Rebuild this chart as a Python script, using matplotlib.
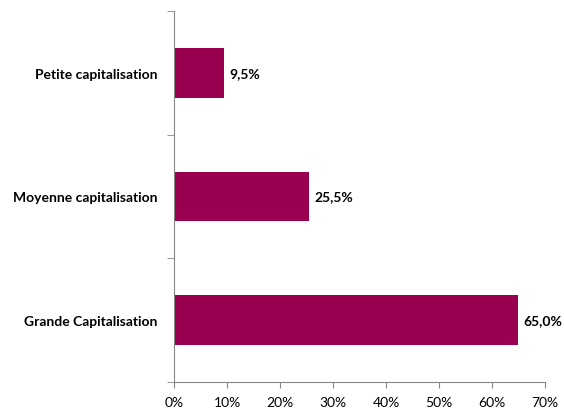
import matplotlib
matplotlib.use('Agg')
import matplotlib.pyplot as plt
from matplotlib.ticker import FixedLocator

plt.rcParams['font.family'] = ['Lato', 'DejaVu Sans']

# data, top to bottom in the picture
categories = ['Petite capitalisation', 'Moyenne capitalisation', 'Grande Capitalisation']
shares = [9.5, 25.5, 65.0]
bar_color = '#990050'

fig = plt.figure(figsize=(5.64, 4.10), dpi=100)
ax = fig.add_axes([0.3085, 0.0659, 0.6578, 0.9048])

pos = list(range(len(categories)))[::-1]
ax.barh(pos, shares, height=0.4, color=bar_color)

for p, v in zip(pos, shares):
    ax.text(v + 1.0, p, f'{v:.1f}%'.replace('.', ','), va='center', ha='left',
            fontsize=10, fontweight='bold')

ax.set_xlim(0, 70)
ax.set_ylim(-0.5, 2.5)
ax.set_xticks(range(0, 71, 10))
ax.set_xticklabels([f'{t}%' for t in range(0, 71, 10)], fontsize=10)

ax.set_yticks(pos)
ax.set_yticklabels(categories, fontsize=10, fontweight='bold')
ax.tick_params(axis='y', length=0, pad=12)
# boundary tick marks on the category axis
ax.yaxis.set_minor_locator(FixedLocator([-0.5, 0.5, 1.5, 2.5]))
ax.tick_params(axis='y', which='minor', length=5, color='#868686')
ax.tick_params(axis='x', length=4, color='#868686', pad=6)

for s in ['top', 'right']:
    ax.spines[s].set_visible(False)
for s in ['left', 'bottom']:
    ax.spines[s].set_color('#868686')

fig.savefig('out.png', dpi=100)
